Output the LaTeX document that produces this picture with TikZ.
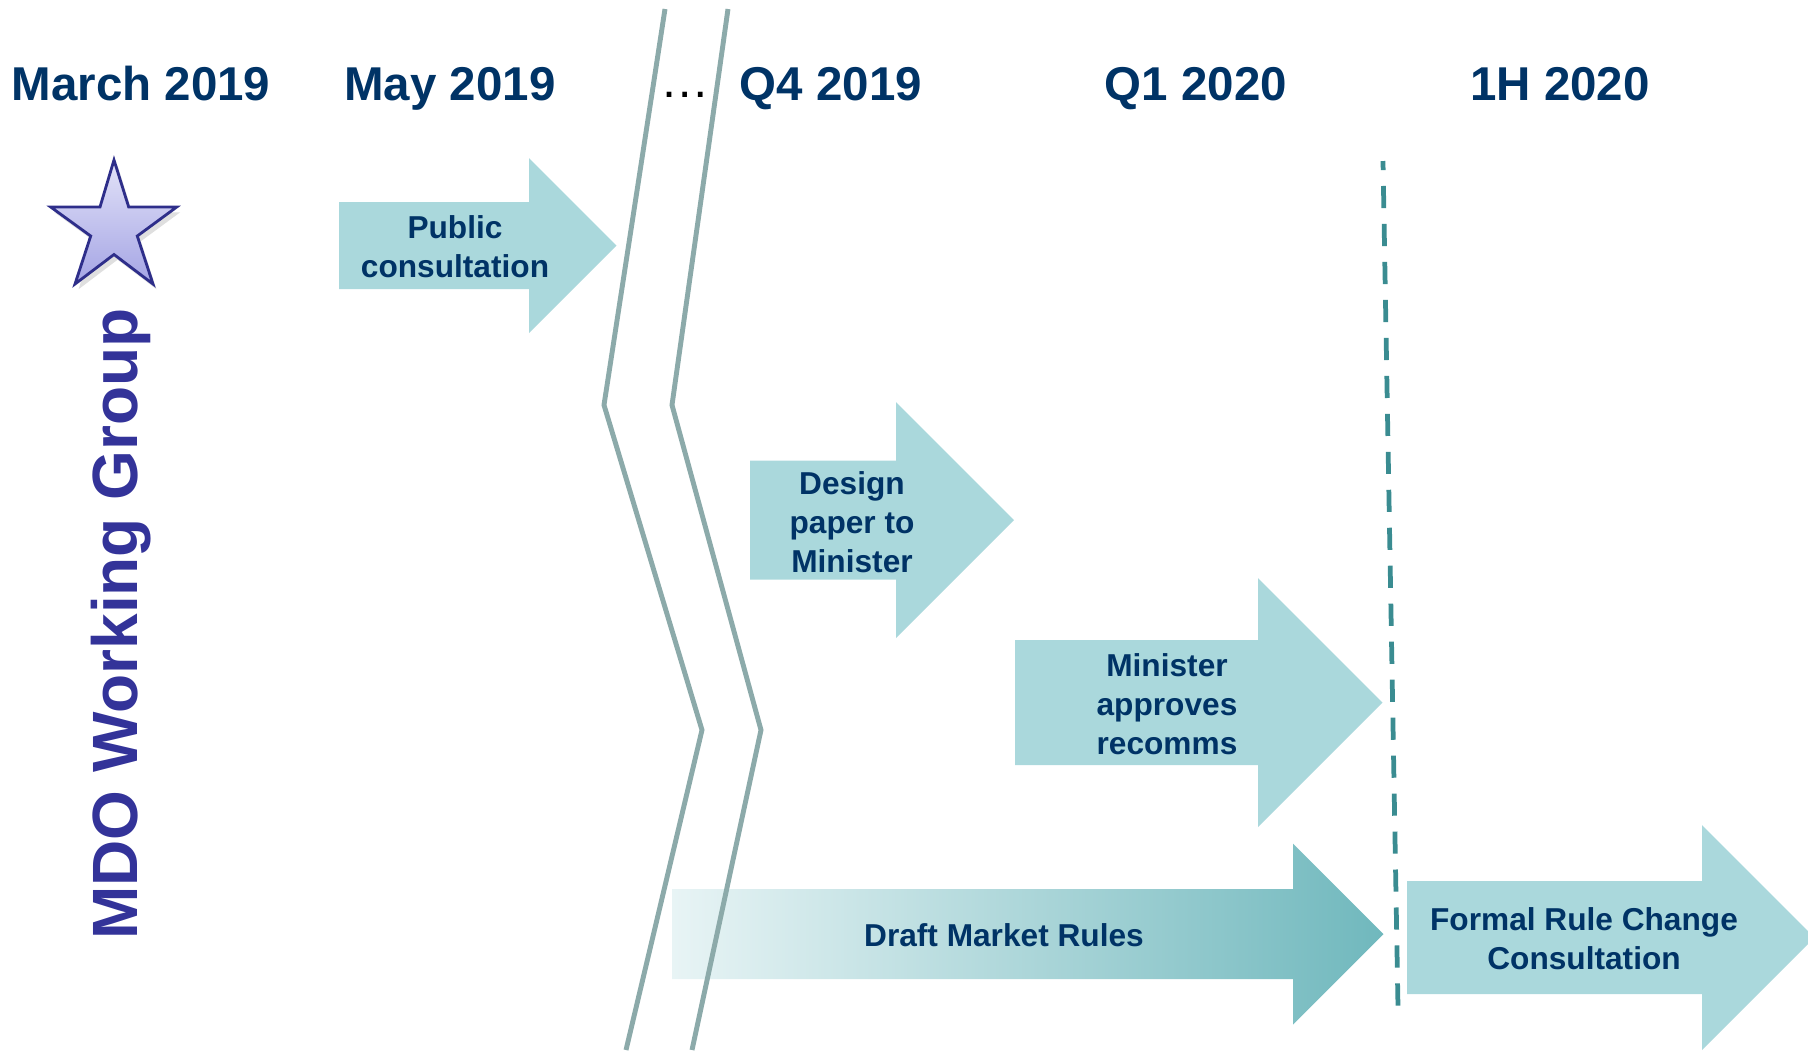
\documentclass[tikz,border=0pt]{standalone}
\usepackage{fontspec}
\setmainfont{Liberation Sans}
\usetikzlibrary{shadows}
\definecolor{navy}{RGB}{0,51,102}
\definecolor{wgblue}{RGB}{51,51,153}
\definecolor{arrowfill}{RGB}{170,216,220}
\definecolor{gapgray}{RGB}{140,170,170}
\definecolor{cutteal}{RGB}{58,140,145}
\definecolor{draftlight}{RGB}{232,244,245}
\definecolor{draftdark}{RGB}{112,184,189}
\definecolor{startop}{RGB}{226,226,248}
\definecolor{starbot}{RGB}{164,164,228}
\definecolor{staredge}{RGB}{46,46,138}
% block arrow: left x, head x, mid y, half body, half head (45 degree head)
\newcommand{\blockarrow}[5]{%
  (#1,#3-#4) -- (#2,#3-#4) -- (#2,#3-#5) -- (#2+#5,#3)
  -- (#2,#3+#5) -- (#2,#3+#4) -- (#1,#3+#4) -- cycle}

\begin{document}
\begin{tikzpicture}[
  x=0.01cm, y=-0.01cm,
  period/.style={font=\fontsize{13.5}{16}\selectfont\bfseries, text=navy, anchor=base, inner sep=0pt},
  task/.style={font=\fontsize{9}{11}\selectfont\bfseries, text=navy, align=center, inner sep=0pt},
  block/.style={fill=arrowfill},
  gap/.style={draw=gapgray, line width=1.4pt},
  cutoff/.style={draw=cutteal, line width=1.35pt, dash pattern=on 6.3pt off 4.5pt, dash phase=3.7pt}
]
  \useasboundingbox (0,0) rectangle (1808,1050);
  \clip (0,0) rectangle (1808,1050);

  % time periods
  \node[period] (mar19) at (141,100) {March 2019};
  \node[period] (may19) at (450,100) {May 2019};
  \node[anchor=base, inner sep=0pt, font=\fontsize{14}{16}\selectfont] (dots) at (685,97) {…};
  \node[period] (q419) at (831,100) {Q4 2019};
  \node[period] (q120) at (1196,100) {Q1 2020};
  \node[period] (h120) at (1560,100) {1H 2020};

  % time gap
  \coordinate (L1) at (665,9);   \coordinate (L2) at (604,405);
  \coordinate (L3) at (702,730); \coordinate (L4) at (626,1050);
  \coordinate (R1) at (728,9);   \coordinate (R2) at (672,405);
  \coordinate (R3) at (761,730); \coordinate (R4) at (692,1050);

  % working group
  \draw[staredge, line width=0.8pt, top color=startop, bottom color=starbot,
        drop shadow={opacity=0.25, shadow xshift=1pt, shadow yshift=-1.5pt}]
    (114,160) -- (128.7,207) -- (176.7,207) -- (137.3,236) -- (153,284)
    -- (114,254.5) -- (75,284) -- (90.7,236) -- (50.7,207) -- (100,207) -- cycle;
  \node[rotate=90, anchor=base, inner sep=0pt, text=wgblue,
        font=\fontsize{18.2}{20}\selectfont\bfseries] (wg) at (137,624) {MDO Working Group};

  % tasks
  \fill[block] \blockarrow{339}{529}{245.5}{43.5}{87.5};
  \node[task] (pubcon) at (455,247) {Public\\consultation};

  \fill[block] \blockarrow{750}{896}{520}{59.5}{118};
  \node[task] (design) at (852,522) {Design\\paper to\\Minister};

  \fill[block] \blockarrow{1015}{1258}{702.5}{62.5}{124.5};
  \node[task] (approve) at (1167,704) {Minister\\approves\\recomms};

  \shade[left color=draftlight, right color=draftdark] \blockarrow{672}{1293}{934}{45}{90.5};
  \node[task] (draft) at (1004,935) {Draft Market Rules};

  \fill[block] \blockarrow{1407}{1702}{937.5}{56.5}{112.5};
  \node[task] (formal) at (1584,939) {Formal Rule Change\\Consultation};

  \draw[gap] (L1) -- (L2) -- (L3) -- (L4);
  \draw[gap] (R1) -- (R2) -- (R3) -- (R4);

  \draw[cutoff] (1383,161) -- (1398,1007);
\end{tikzpicture}
\end{document}
